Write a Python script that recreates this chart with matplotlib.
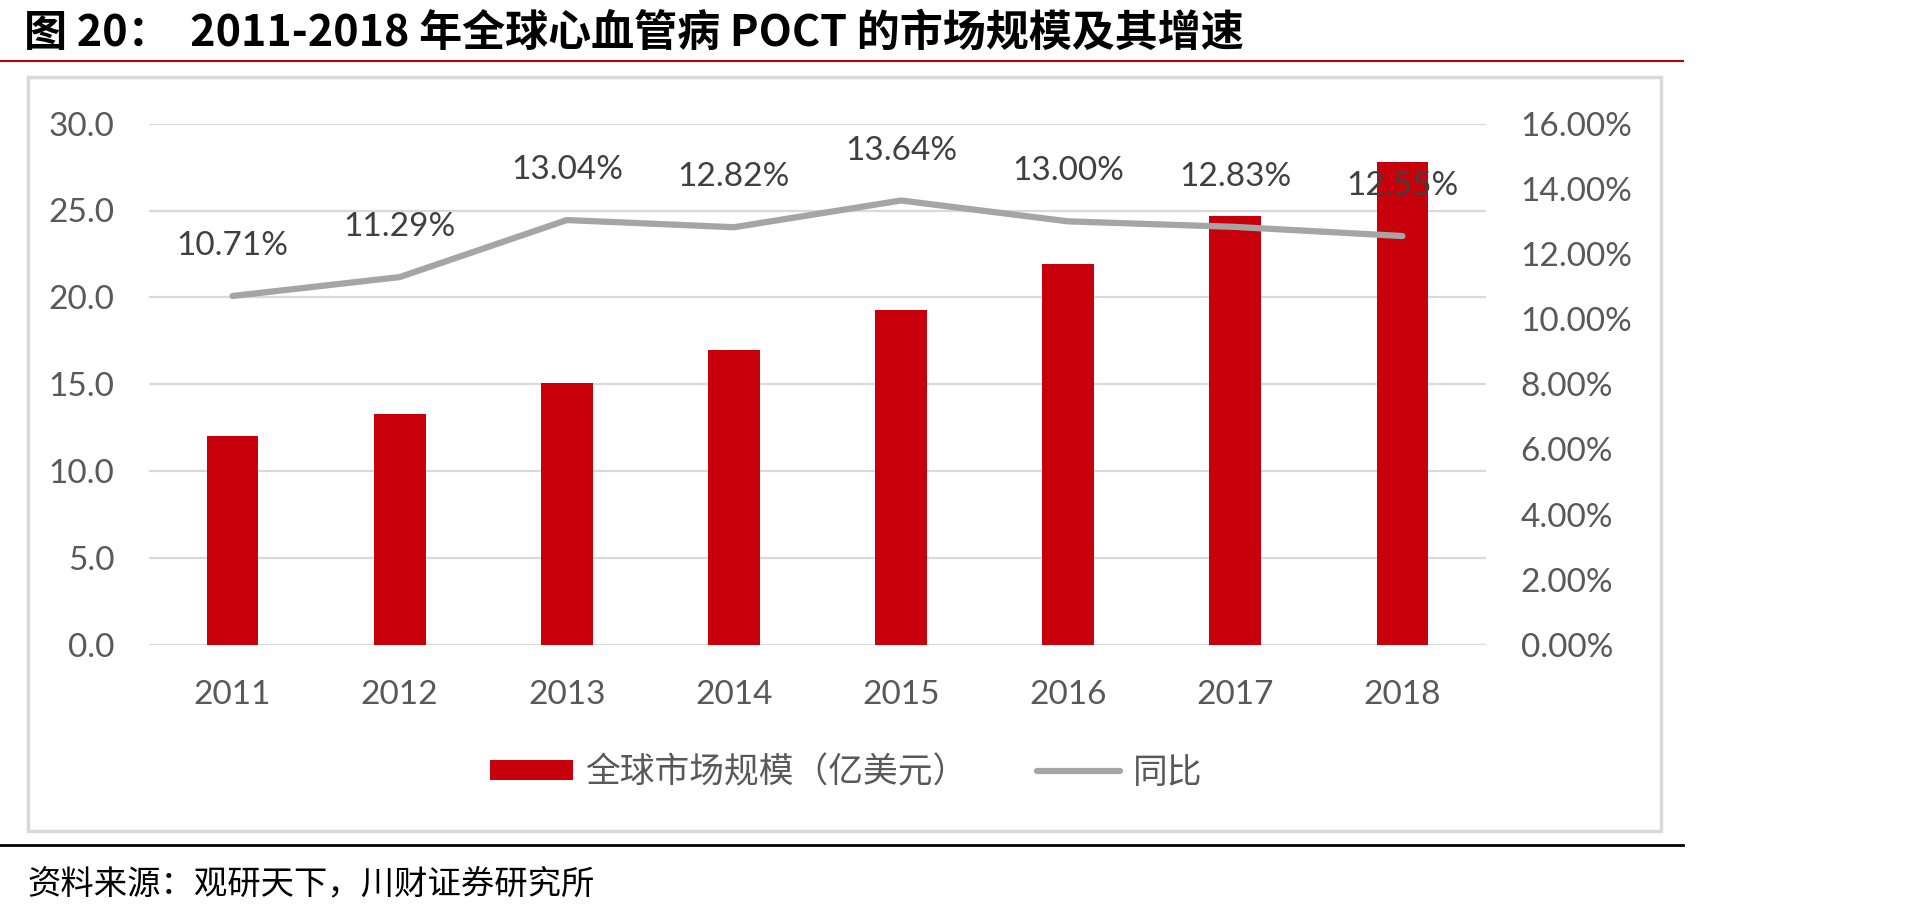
import matplotlib
matplotlib.use("Agg")
import matplotlib.pyplot as plt
from matplotlib.patches import Rectangle, Patch
from matplotlib.lines import Line2D

years = ["2011", "2012", "2013", "2014", "2015", "2016", "2017", "2018"]
market = [12.0, 13.3, 15.1, 17.0, 19.3, 21.9, 24.7, 27.8]
growth = [10.71, 11.29, 13.04, 12.82, 13.64, 13.00, 12.83, 12.55]
left_ticks = [0, 5, 10, 15, 20, 25, 30]
right_ticks = [0, 2, 4, 6, 8, 10, 12, 14, 16]

title = "图 20：  2011-2018 年全球心血管病 POCT 的市场规模及其增速"
source = "资料来源：观研天下，川财证券研究所"
bar_label = "全球市场规模（亿美元）"
line_label = "同比"

RED = "#C7000B"
GRAY = "#A5A5A5"
CJK = ["Noto Sans CJK SC", "DejaVu Sans"]
NUM = ["Lato", "DejaVu Sans"]
NS = 24

fig = plt.figure(figsize=(19.19, 9.15), dpi=100)
W, H = 1919, 915

ax = fig.add_axes([149 / W, 1 - 645 / H, (1486 - 149) / W, (645 - 123.6) / H])
ax2 = ax.twinx()

x = list(range(len(years)))
ax.bar(x, market, width=0.31, color=RED, zorder=2)
ax.set_xlim(-0.5, len(years) - 0.5)
ax.set_ylim(0, 30)
ax.set_yticks(left_ticks)
ax.set_yticklabels([f"{v:.1f}" for v in left_ticks])
ax.set_xticks(x)
ax.set_xticklabels(years)
ax.yaxis.grid(True, color="#D9D9D9", lw=1.6)
ax.set_axisbelow(True)
for s in ax.spines.values():
    s.set_visible(False)
ax.tick_params(axis="both", length=0, labelsize=NS, colors="#595959")
ax.tick_params(axis="y", pad=25)
ax.tick_params(axis="x", pad=25)
for lab in ax.get_xticklabels() + ax.get_yticklabels():
    lab.set_family(NUM)

ax2.plot(x, growth, color=GRAY, lw=4.5, solid_capstyle="round", solid_joinstyle="round", zorder=3)
ax2.set_ylim(0, 16)
ax2.set_yticks(right_ticks)
ax2.set_yticklabels([f"{v:.2f}%" for v in right_ticks])
for s in ax2.spines.values():
    s.set_visible(False)
ax2.tick_params(axis="y", length=0, labelsize=NS, colors="#595959", pad=25)
for lab in ax2.get_yticklabels():
    lab.set_family(NUM)

for i, g in enumerate(growth):
    ax2.annotate(f"{g:.2f}%", (i, g), xytext=(0, 36), textcoords="offset points",
                 ha="center", va="center", fontsize=NS, color="#404040", family=NUM, zorder=5)

handles = [Patch(facecolor=RED, edgecolor="none"),
           Line2D([0], [0], color=GRAY, lw=4.5, solid_capstyle="round")]
leg = fig.legend(handles, [bar_label, line_label], loc="center", bbox_to_anchor=(846 / W, 1 - 773 / H),
                 ncol=2, frameon=False, prop={"family": CJK, "size": 25},
                 handlelength=2.4, handletextpad=0.35, columnspacing=2.0, handleheight=0.5)
for t in leg.get_texts():
    t.set_color("#595959")

fig.patches.append(Rectangle((28 / W, 1 - 831 / H), (1661 - 28) / W, (831 - 77) / H,
                             transform=fig.transFigure, fill=False, edgecolor="#D9D9D9", lw=2.5))
fig.lines.append(Line2D([0, 1683 / W], [1 - 61 / H, 1 - 61 / H], transform=fig.transFigure,
                        color="#C00000", lw=1.5))
fig.lines.append(Line2D([0, 1683 / W], [1 - 845 / H, 1 - 845 / H], transform=fig.transFigure,
                        color="black", lw=2))

fig.text(24 / W, 1 - 33 / H, title, ha="left", va="center", fontsize=31, fontweight="bold",
         family=CJK, color="black")
fig.text(27 / W, 1 - 884 / H, source, ha="left", va="center", fontsize=24, family=CJK,
         color="black", style="italic")

fig.savefig("out.png", dpi=100, facecolor="white")
